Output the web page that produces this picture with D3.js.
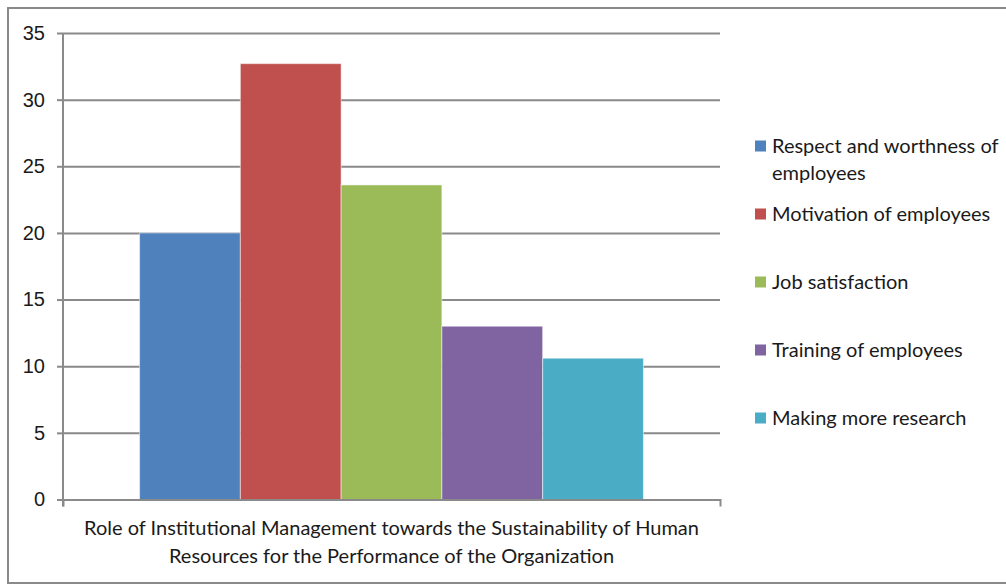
<!DOCTYPE html>
<html>
<head>
<meta charset="utf-8">
<script src="https://cdn.jsdelivr.net/npm/d3@7"></script>
<style>
	body { margin: 0; background: #fff; }
	svg { display: block; font-family: Lato, 'Liberation Sans', sans-serif; }
</style>
</head>
<body>
<svg></svg>
<script>
// data
const category = 'Role of Institutional Management towards the Sustainability of Human Resources for the Performance of the Organization'
const series = [ 'Respect and worthness of employees', 'Motivation of employees', 'Job satisfaction', 'Training of employees', 'Making more research' ]
const values = [ 20.0, 32.7, 23.6, 13.0, 10.6 ]
const colors = [ '#4f81bd', '#c0504d', '#9bbb59', '#8064a2', '#4bacc6' ]
const yTicks = [ 0, 5, 10, 15, 20, 25, 30, 35 ]

const WIDTH = 1006,
	HEIGHT = 585,
	plot = { left: 63, right: 720, top: 33, bottom: 499.5 },
	fontSize = 20,
	textColor = '#1a1a1a',
	gridColor = '#8a8a8a'

const svg = d3.select( 'svg' )
	.attr( 'width', WIDTH )
	.attr( 'height', HEIGHT )

// chart border
svg.append( 'rect' )
	.attr( 'x', 8 ).attr( 'y', 8 )
	.attr( 'width', WIDTH ).attr( 'height', 575 )
	.attr( 'fill', '#fff' )
	.attr( 'stroke', gridColor )
	.attr( 'stroke-width', 2 )

const y = d3.scaleLinear().domain( [0, 35] ).range( [plot.bottom, plot.top] )
const x0 = d3.scaleBand().domain( [category] ).range( [plot.left, plot.right] )
const x1 = d3.scaleBand().domain( series ).range( [0, x0.bandwidth()] ).paddingInner( 0 ).paddingOuter( 0.76 )

// gridlines
svg.append( 'g' )
	.attr( 'transform', `translate(${plot.left},0)` )
	.call( d3.axisLeft( y ).tickValues( yTicks.slice( 1 ) ).tickSize( -( plot.right - plot.left ) ).tickFormat( '' ) )
	.call( g => g.select( '.domain' ).remove() )
	.call( g => g.selectAll( 'line' ).attr( 'stroke', gridColor ).attr( 'stroke-width', 2 ) )

// bars
svg.append( 'g' )
	.attr( 'transform', `translate(${x0( category )},0)` )
	.selectAll( 'rect' )
	.data( series )
	.join( 'rect' )
	.attr( 'x', d => x1( d ) )
	.attr( 'y', ( d, i ) => y( values[i] ) )
	.attr( 'width', x1.bandwidth() )
	.attr( 'height', ( d, i ) => y( 0 ) - y( values[i] ) )
	.attr( 'fill', ( d, i ) => colors[i] )
	.attr( 'stroke', 'rgba(255,255,255,0.5)' )
	.attr( 'stroke-width', 1 )

// y axis
svg.append( 'g' )
	.attr( 'transform', `translate(${plot.left},0)` )
	.call( d3.axisLeft( y ).tickValues( yTicks ).tickSize( 6 ).tickPadding( 12 ) )
	.call( g => g.select( '.domain' ).attr( 'd', `M0,${plot.top}V${plot.bottom + 7}` ) )
	.call( g => g.selectAll( 'path, line' ).attr( 'stroke', gridColor ).attr( 'stroke-width', 2 ) )
	.call( g => g.selectAll( 'text' ).attr( 'font-size', fontSize ).attr( 'fill', textColor ).attr( 'font-family', null ) )

// x axis, ticks on the category edges
svg.append( 'g' )
	.attr( 'transform', `translate(0,${plot.bottom})` )
	.call( d3.axisBottom( x0 ).tickValues( [] ).tickSizeOuter( 7 ) )
	.call( g => g.select( '.domain' ).attr( 'stroke', gridColor ).attr( 'stroke-width', 2 ) )

// category label, two lines
const catLines = [ 'Role of Institutional Management towards the Sustainability of Human', 'Resources for the Performance of the Organization' ]
svg.append( 'text' )
	.attr( 'text-anchor', 'middle' )
	.attr( 'font-size', fontSize )
	.attr( 'fill', textColor )
	.selectAll( 'tspan' )
	.data( catLines )
	.join( 'tspan' )
	.attr( 'x', x0( category ) + x0.bandwidth() / 2 )
	.attr( 'y', ( d, i ) => 535 + i * 28 )
	.text( d => d )

// legend
const legendY = [ 146, 214, 282, 350, 418 ]
const legend = svg.append( 'g' )
	.selectAll( 'g' )
	.data( series )
	.join( 'g' )
	.attr( 'transform', ( d, i ) => `translate(755,${legendY[i]})` )

legend.append( 'rect' )
	.attr( 'x', 0 ).attr( 'y', -5.5 )
	.attr( 'width', 11 ).attr( 'height', 11 )
	.attr( 'fill', ( d, i ) => colors[i] )

legend.append( 'text' )
	.attr( 'font-size', fontSize )
	.attr( 'fill', textColor )
	.each( function( d ) {
		const t = d3.select( this )
		const lines = d === series[0] ? [ 'Respect and worthness of', 'employees' ] : [ d ]
		lines.forEach( ( l, i ) => t.append( 'tspan' ).attr( 'x', 17 ).attr( 'y', i * 27 ).attr( 'dy', '0.36em' ).text( l ) )
	})
</script>
</body>
</html>
